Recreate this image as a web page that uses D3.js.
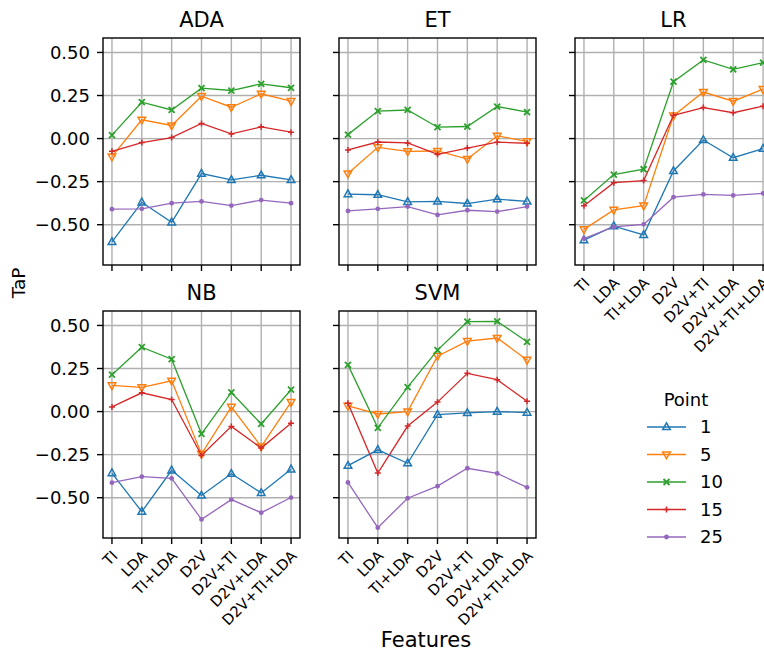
<!doctype html>
<html>
<head>
  <meta charset="utf-8">
  <title>TaP by features</title>
  <style>
  body { margin: 0; background: #fff; }
  svg { display: block; font-family: "DejaVu Sans", sans-serif; }
  </style>
</head>
<body>
  <div id="vis"></div>
  <script src="https://d3js.org/d3.v7.min.js"></script>
  <script>
  var features = ['TI', 'LDA', 'TI+LDA', 'D2V', 'D2V+TI', 'D2V+LDA', 'D2V+TI+LDA'];
  var points = [1, 5, 10, 15, 25];
  var models = ['ADA', 'ET', 'LR', 'NB', 'SVM'];
  var yTicks = [-0.5, -0.25, 0, 0.25, 0.5];

  // one row per point (1, 5, 10, 15, 25), one value per feature set
  var ada = [
    [-0.60, -0.37, -0.486, -0.203, -0.24, -0.213, -0.24],
    [-0.105, 0.109, 0.076, 0.246, 0.182, 0.26, 0.217],
    [0.02, 0.211, 0.166, 0.293, 0.279, 0.318, 0.295],
    [-0.074, -0.023, 0.006, 0.088, 0.027, 0.068, 0.037],
    [-0.41, -0.408, -0.375, -0.365, -0.389, -0.357, -0.375]
  ];
  var et = [
    [-0.322, -0.326, -0.367, -0.365, -0.377, -0.352, -0.365],
    [-0.203, -0.051, -0.074, -0.072, -0.119, 0.016, -0.016],
    [0.023, 0.16, 0.166, 0.066, 0.07, 0.186, 0.154],
    [-0.066, -0.02, -0.025, -0.092, -0.055, -0.021, -0.027],
    [-0.42, -0.408, -0.395, -0.443, -0.416, -0.424, -0.395]
  ];
  var lr = [
    [-0.59, -0.508, -0.559, -0.188, -0.008, -0.111, -0.059],
    [-0.527, -0.414, -0.389, 0.133, 0.27, 0.217, 0.287],
    [-0.359, -0.209, -0.178, 0.33, 0.457, 0.402, 0.441],
    [-0.39, -0.256, -0.244, 0.135, 0.18, 0.15, 0.188],
    [-0.58, -0.512, -0.498, -0.34, -0.324, -0.33, -0.318]
  ];
  var nb = [
    [-0.357, -0.581, -0.341, -0.487, -0.361, -0.472, -0.335],
    [0.152, 0.14, 0.179, -0.246, 0.027, -0.203, 0.055],
    [0.214, 0.374, 0.304, -0.129, 0.111, -0.072, 0.127],
    [0.027, 0.109, 0.07, -0.255, -0.086, -0.212, -0.068],
    [-0.413, -0.378, -0.388, -0.626, -0.511, -0.587, -0.499]
  ];
  var svm = [
    [-0.314, -0.222, -0.30, -0.018, -0.008, 0.0, -0.006],
    [0.033, -0.014, 0.0, 0.322, 0.409, 0.427, 0.30],
    [0.271, -0.094, 0.142, 0.357, 0.522, 0.524, 0.405],
    [0.049, -0.357, -0.084, 0.055, 0.222, 0.185, 0.06],
    [-0.411, -0.674, -0.503, -0.433, -0.329, -0.359, -0.44]
  ];
  var modelData = [ada, et, lr, nb, svm];

  var colors = ['#1f77b4', '#ff7f0e', '#2ca02c', '#d62728', '#9467bd'];
  var markers = ['up', 'down', 'x', 'plus', 'dot'];

  var width = 764, height = 651;
  var pw = 197, ph = 227;
  var colX = [103, 339, 575];
  var rowY = [38, 311];

  var svg = d3.select('#vis').append('svg')
    .attr('width', width)
    .attr('height', height);

  var x = d3.scalePoint().domain(features).range([0, pw]).padding(0.3);

  var all = d3.merge(modelData.map(function(m){ return d3.merge(m); }));
  var ext = d3.extent(all);
  var pad = (ext[1] - ext[0]) * 0.05;
  var y = d3.scaleLinear().domain([ext[0] - pad, ext[1] + pad]).range([ph, 0]);

  function drawMarker(g, kind, color){
    if(kind === 'up'){
      g.append('path').attr('d', 'M0,-4.2L3.8,2.6L-3.8,2.6Z')
        .attr('fill', 'none').attr('stroke', color).attr('stroke-width', 1.5);
    } else if(kind === 'down'){
      g.append('path').attr('d', 'M0,4.2L3.8,-2.6L-3.8,-2.6Z')
        .attr('fill', 'none').attr('stroke', color).attr('stroke-width', 1.5);
    } else if(kind === 'x'){
      g.append('path').attr('d', 'M-3,-3L3,3M-3,3L3,-3')
        .attr('stroke', color).attr('stroke-width', 1.8);
    } else if(kind === 'plus'){
      g.append('path').attr('d', 'M-3,0L3,0M0,-3L0,3')
        .attr('stroke', color).attr('stroke-width', 1.5);
    } else {
      g.append('circle').attr('r', 2.4).attr('fill', color);
    }
  }

  var line = d3.line()
    .x(function(d, i){ return x(features[i]); })
    .y(function(d){ return y(d); });

  models.forEach(function(name, k){
    var col = k % 3, row = Math.floor(k / 3);
    var g = svg.append('g').attr('transform', 'translate(' + colX[col] + ',' + rowY[row] + ')');

    // grid
    g.selectAll('.gx').data(features).enter().append('line')
      .attr('x1', function(d){ return x(d); }).attr('x2', function(d){ return x(d); })
      .attr('y1', 0).attr('y2', ph)
      .attr('stroke', '#b0b0b0').attr('stroke-width', 1.4);
    g.selectAll('.gy').data(yTicks).enter().append('line')
      .attr('x1', 0).attr('x2', pw)
      .attr('y1', function(d){ return y(d); }).attr('y2', function(d){ return y(d); })
      .attr('stroke', '#b0b0b0').attr('stroke-width', 1.4);

    // series
    modelData[k].forEach(function(vals, s){
      g.append('path').datum(vals)
        .attr('d', line)
        .attr('fill', 'none')
        .attr('stroke', colors[s])
        .attr('stroke-width', 1.3);
      vals.forEach(function(v, i){
        var m = g.append('g').attr('transform', 'translate(' + x(features[i]) + ',' + y(v) + ')');
        drawMarker(m, markers[s], colors[s]);
      });
    });

    // frame
    g.append('rect').attr('width', pw).attr('height', ph)
      .attr('fill', 'none').attr('stroke', '#000').attr('stroke-width', 1.4);

    // ticks
    g.selectAll('.tx').data(features).enter().append('line')
      .attr('x1', function(d){ return x(d); }).attr('x2', function(d){ return x(d); })
      .attr('y1', ph).attr('y2', ph + 6)
      .attr('stroke', '#000').attr('stroke-width', 1.4);
    g.selectAll('.ty').data(yTicks).enter().append('line')
      .attr('x1', -6).attr('x2', 0)
      .attr('y1', function(d){ return y(d); }).attr('y2', function(d){ return y(d); })
      .attr('stroke', '#000').attr('stroke-width', 1.4);

    if(col === 0){
      g.selectAll('.ly').data(yTicks).enter().append('text')
        .attr('x', -13).attr('y', function(d){ return y(d); })
        .attr('dy', '0.36em')
        .attr('text-anchor', 'end')
        .attr('font-size', 18)
        .text(d3.format('.2f'));
    }

    if(row === 1 || col === 2){
      g.selectAll('.lx').data(features).enter().append('text')
        .attr('transform', function(d){ return 'translate(' + (x(d) + 6.5) + ',' + (ph + 19) + ') rotate(-45)'; })
        .attr('text-anchor', 'end')
        .attr('font-size', 14.7)
        .text(function(d){ return d; });
    }

    g.append('text')
      .attr('x', pw / 2).attr('y', -11)
      .attr('text-anchor', 'middle')
      .attr('font-size', 21)
      .text(name);
  });

  svg.append('text')
    .attr('transform', 'translate(25,283) rotate(-90)')
    .attr('text-anchor', 'middle')
    .attr('font-size', 18.5)
    .text('TaP');

  svg.append('text')
    .attr('x', 426).attr('y', 647)
    .attr('text-anchor', 'middle')
    .attr('font-size', 21)
    .text('Features');

  // legend
  var leg = svg.append('g').attr('transform', 'translate(647,0)');
  leg.append('text')
    .attr('x', 39).attr('y', 406)
    .attr('text-anchor', 'middle')
    .attr('font-size', 18)
    .text('Point');
  points.forEach(function(p, s){
    var ly = 427 + s * 27.5;
    leg.append('line')
      .attr('x1', 0).attr('x2', 39).attr('y1', ly).attr('y2', ly)
      .attr('stroke', colors[s]).attr('stroke-width', 1.3);
    drawMarker(leg.append('g').attr('transform', 'translate(19.5,' + ly + ')'), markers[s], colors[s]);
    leg.append('text')
      .attr('x', 53).attr('y', ly).attr('dy', '0.36em')
      .attr('font-size', 18)
      .text(p);
  });
  </script>
</body>
</html>
